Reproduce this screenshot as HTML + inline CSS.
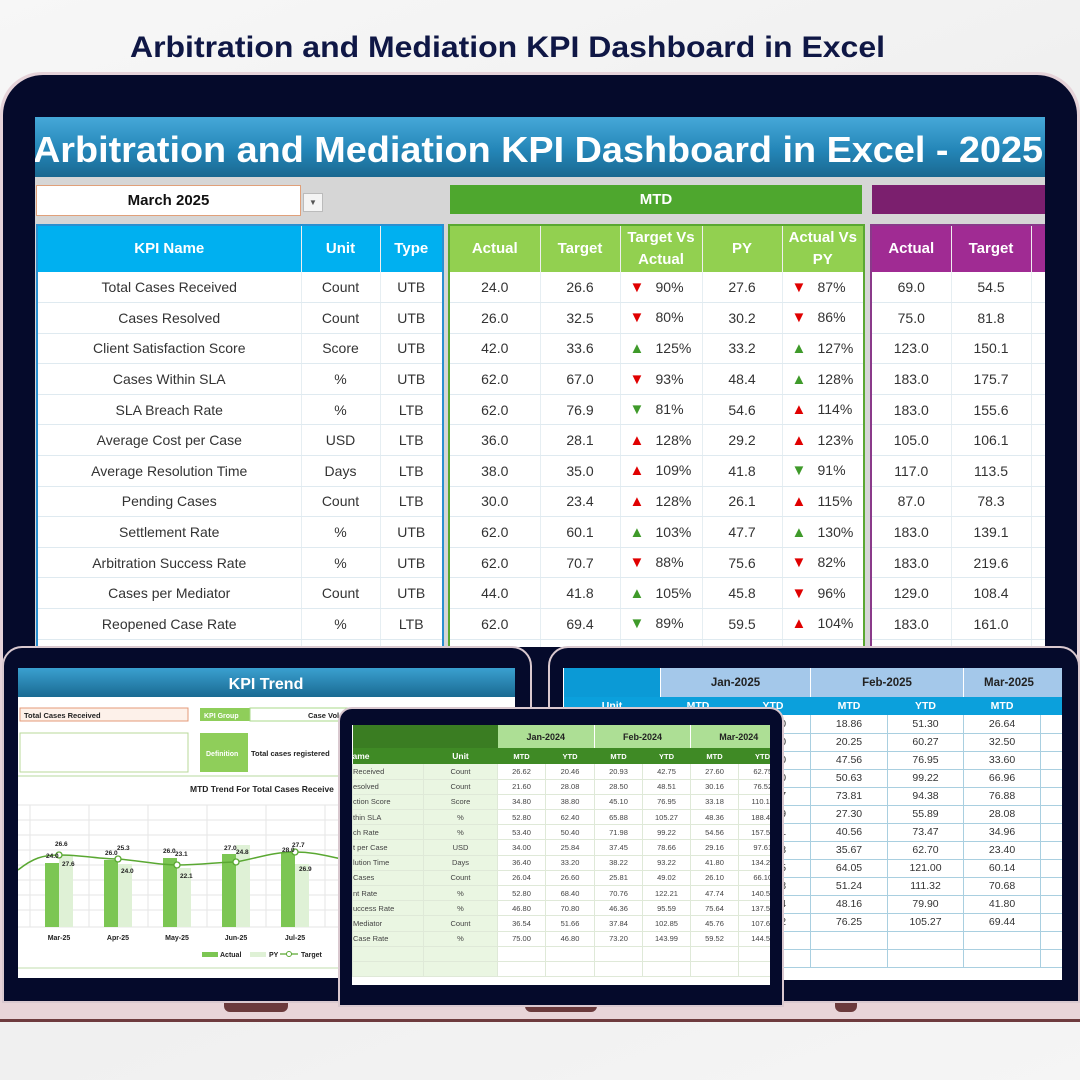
<!DOCTYPE html>
<html><head><meta charset="utf-8"><style>
*{box-sizing:border-box;margin:0;padding:0}
body{width:1080px;height:1080px;overflow:hidden;position:relative;background:linear-gradient(160deg,#f7f7f7,#ececec 50%,#f5f5f5);font-family:"Liberation Sans",sans-serif}
.abs{position:absolute}
table{border-collapse:collapse;table-layout:fixed}
td{padding:0;text-align:center;white-space:nowrap;overflow:hidden}
.mt td{height:30.6px;font-size:14px;color:#333;border-bottom:1px solid #dfeaf0;border-left:1px solid #e6eef2}
.mt tr.h td{height:47px;font-size:15px;font-weight:bold;color:#fff;line-height:22px;border-left:1px solid rgba(255,255,255,.6);border-bottom:none}
.mt tr.r td{background:#fff}
.mt td.a{text-align:left;padding-left:9px}
.dn{color:#e00000}.up{color:#e00000}.gu{color:#3f9a2a}.gd{color:#3f9a2a}
.ar{display:inline-block;width:26px;text-align:left;font-size:15px}
.pc{display:inline-block;text-align:left}
.tb td{font-size:7.5px;color:#444;height:15.2px;border-bottom:1px solid #dfe9d8;border-left:1px solid #dfe9d8}
.rb td{font-size:10.5px;color:#333;height:18px;border-bottom:1px solid #a9cfe0;border-left:1px solid #a9cfe0}
</style></head><body>
<svg class="abs" style="left:0;top:0" width="1080" height="75"><text x="130" y="57" font-family="Liberation Sans" font-weight="bold" font-size="30" fill="#0f1745" textLength="755" lengthAdjust="spacingAndGlyphs">Arbitration and Mediation KPI Dashboard in Excel</text></svg>

<div class="abs" style="left:0;top:990px;width:1080px;height:30px;background:#e8d4d8"></div>
<div class="abs" style="left:0;top:1019px;width:1080px;height:3px;background:#6e3b3e"></div>
<div class="abs" style="left:224px;top:1000px;width:64px;height:12px;background:#6b3a3c;border-radius:0 0 6px 6px"></div>
<div class="abs" style="left:525px;top:1000px;width:72px;height:12px;background:#6b3a3c;border-radius:0 0 6px 6px"></div>
<div class="abs" style="left:835px;top:1000px;width:22px;height:12px;background:#6b3a3c;border-radius:0 0 6px 6px"></div>

<div class="abs" style="left:0;top:72px;width:1080px;height:930px;background:#e6d3d9;border-radius:42px 42px 0 0"></div>
<div class="abs" style="left:3px;top:75px;width:1074px;height:925px;background:#050a2b;border-radius:40px 40px 0 0"></div>
<div class="abs" style="left:35px;top:117px;width:1010px;height:530px;background:#d6d6d6;overflow:hidden">
  <div class="abs" style="left:0;top:0;width:1010px;height:60px;background:linear-gradient(#46a8d8,#2486b8 55%,#1a6890)"></div>
  <svg class="abs" style="left:0;top:0" width="1010" height="60"><text x="-2" y="45" font-family="Liberation Sans" font-weight="bold" font-size="36" fill="#fff" textLength="1010" lengthAdjust="spacingAndGlyphs">Arbitration and Mediation KPI Dashboard in Excel - 2025</text></svg>
  <div class="abs" style="left:1px;top:68px;width:265px;height:31px;background:#fff;border:1px solid #e0a07a;font-weight:bold;font-size:15px;text-align:center;line-height:29px;color:#111">March 2025</div>
  <div class="abs" style="left:268px;top:76px;width:20px;height:19px;background:#f4f4f4;border:1px solid #bbb;font-size:8px;text-align:center;line-height:17px;color:#555">▼</div>
  <div class="abs" style="left:415px;top:68px;width:412px;height:29px;background:#4ea72e;color:#fff;font-weight:bold;font-size:15px;text-align:center;line-height:29px">MTD</div>
  <div class="abs" style="left:837px;top:68px;width:180px;height:29px;background:#7b1f6e"></div>

  <table class="abs mt" style="left:1px;top:107px;width:406px;border:2px solid #2a8fd0">
    <colgroup><col style="width:264px"><col style="width:79px"><col style="width:63px"></colgroup>
    <tr class="h" style="background:#00b0f0"><td>KPI Name</td><td>Unit</td><td>Type</td></tr>
    <tr class="r"><td>Total Cases Received</td><td>Count</td><td>UTB</td></tr>
    <tr class="r"><td>Cases Resolved</td><td>Count</td><td>UTB</td></tr>
    <tr class="r"><td>Client Satisfaction Score</td><td>Score</td><td>UTB</td></tr>
    <tr class="r"><td>Cases Within SLA</td><td>%</td><td>UTB</td></tr>
    <tr class="r"><td>SLA Breach Rate</td><td>%</td><td>LTB</td></tr>
    <tr class="r"><td>Average Cost per Case</td><td>USD</td><td>LTB</td></tr>
    <tr class="r"><td>Average Resolution Time</td><td>Days</td><td>LTB</td></tr>
    <tr class="r"><td>Pending Cases</td><td>Count</td><td>LTB</td></tr>
    <tr class="r"><td>Settlement Rate</td><td>%</td><td>UTB</td></tr>
    <tr class="r"><td>Arbitration Success Rate</td><td>%</td><td>UTB</td></tr>
    <tr class="r"><td>Cases per Mediator</td><td>Count</td><td>UTB</td></tr>
    <tr class="r"><td>Reopened Case Rate</td><td>%</td><td>LTB</td></tr>
    <tr class="r"><td></td><td></td><td></td></tr>
  </table>

  <table class="abs mt" style="left:413px;top:107px;width:415px;border:2px solid #5aa832">
    <colgroup><col style="width:91px"><col style="width:80px"><col style="width:82px"><col style="width:80px"><col style="width:82px"></colgroup>
    <tr class="h" style="background:#92d050"><td>Actual</td><td>Target</td><td>Target Vs<br>Actual</td><td>PY</td><td>Actual Vs<br>PY</td></tr>
    <tr class="r"><td>24.0</td><td>26.6</td><td class="a"><span class="ar dn">▼</span><span class="pc">90%</span></td><td>27.6</td><td class="a"><span class="ar dn">▼</span><span class="pc">87%</span></td></tr>
    <tr class="r"><td>26.0</td><td>32.5</td><td class="a"><span class="ar dn">▼</span><span class="pc">80%</span></td><td>30.2</td><td class="a"><span class="ar dn">▼</span><span class="pc">86%</span></td></tr>
    <tr class="r"><td>42.0</td><td>33.6</td><td class="a"><span class="ar gu">▲</span><span class="pc">125%</span></td><td>33.2</td><td class="a"><span class="ar gu">▲</span><span class="pc">127%</span></td></tr>
    <tr class="r"><td>62.0</td><td>67.0</td><td class="a"><span class="ar dn">▼</span><span class="pc">93%</span></td><td>48.4</td><td class="a"><span class="ar gu">▲</span><span class="pc">128%</span></td></tr>
    <tr class="r"><td>62.0</td><td>76.9</td><td class="a"><span class="ar gd">▼</span><span class="pc">81%</span></td><td>54.6</td><td class="a"><span class="ar up">▲</span><span class="pc">114%</span></td></tr>
    <tr class="r"><td>36.0</td><td>28.1</td><td class="a"><span class="ar up">▲</span><span class="pc">128%</span></td><td>29.2</td><td class="a"><span class="ar up">▲</span><span class="pc">123%</span></td></tr>
    <tr class="r"><td>38.0</td><td>35.0</td><td class="a"><span class="ar up">▲</span><span class="pc">109%</span></td><td>41.8</td><td class="a"><span class="ar gd">▼</span><span class="pc">91%</span></td></tr>
    <tr class="r"><td>30.0</td><td>23.4</td><td class="a"><span class="ar up">▲</span><span class="pc">128%</span></td><td>26.1</td><td class="a"><span class="ar up">▲</span><span class="pc">115%</span></td></tr>
    <tr class="r"><td>62.0</td><td>60.1</td><td class="a"><span class="ar gu">▲</span><span class="pc">103%</span></td><td>47.7</td><td class="a"><span class="ar gu">▲</span><span class="pc">130%</span></td></tr>
    <tr class="r"><td>62.0</td><td>70.7</td><td class="a"><span class="ar dn">▼</span><span class="pc">88%</span></td><td>75.6</td><td class="a"><span class="ar dn">▼</span><span class="pc">82%</span></td></tr>
    <tr class="r"><td>44.0</td><td>41.8</td><td class="a"><span class="ar gu">▲</span><span class="pc">105%</span></td><td>45.8</td><td class="a"><span class="ar dn">▼</span><span class="pc">96%</span></td></tr>
    <tr class="r"><td>62.0</td><td>69.4</td><td class="a"><span class="ar gd">▼</span><span class="pc">89%</span></td><td>59.5</td><td class="a"><span class="ar up">▲</span><span class="pc">104%</span></td></tr>
    <tr class="r"><td></td><td></td><td></td><td></td><td></td></tr>
  </table>

  <table class="abs mt" style="left:835px;top:107px;width:260px;border:2px solid #8a3a8a">
    <colgroup><col style="width:80px"><col style="width:80px"><col style="width:100px"></colgroup>
    <tr class="h" style="background:#a02b93"><td>Actual</td><td>Target</td><td>A</td></tr>
    <tr class="r"><td>69.0</td><td>54.5</td><td></td></tr>
    <tr class="r"><td>75.0</td><td>81.8</td><td></td></tr>
    <tr class="r"><td>123.0</td><td>150.1</td><td></td></tr>
    <tr class="r"><td>183.0</td><td>175.7</td><td></td></tr>
    <tr class="r"><td>183.0</td><td>155.6</td><td></td></tr>
    <tr class="r"><td>105.0</td><td>106.1</td><td></td></tr>
    <tr class="r"><td>117.0</td><td>113.5</td><td></td></tr>
    <tr class="r"><td>87.0</td><td>78.3</td><td></td></tr>
    <tr class="r"><td>183.0</td><td>139.1</td><td></td></tr>
    <tr class="r"><td>183.0</td><td>219.6</td><td></td></tr>
    <tr class="r"><td>129.0</td><td>108.4</td><td></td></tr>
    <tr class="r"><td>183.0</td><td>161.0</td><td></td></tr>
    <tr class="r"><td></td><td></td><td></td></tr>
  </table>
</div>

<div class="abs" style="left:2px;top:646px;width:530px;height:357px;background:#050a2b;border-radius:20px 20px 0 0;border:2px solid #d9c8cf"></div>
<div class="abs" style="left:18px;top:668px;width:497px;height:310px;background:#fff;overflow:hidden">
  <svg width="497" height="310" font-family="Liberation Sans">
    <defs><linearGradient id="g1" x1="0" y1="0" x2="0" y2="1"><stop offset="0" stop-color="#3aa0d0"/><stop offset="1" stop-color="#1a6a92"/></linearGradient></defs>
    <rect x="0" y="0" width="497" height="29" fill="url(#g1)"/>
    <text x="248" y="21" text-anchor="middle" font-weight="bold" font-size="16" fill="#fff">KPI Trend</text>
    <rect x="2" y="40" width="168" height="13" fill="#fdf1ea" stroke="#e49a78"/>
    <text x="6" y="50" font-size="7.5" font-weight="bold" fill="#222">Total Cases Received</text>
    <rect x="182" y="40" width="50" height="13" fill="#8fce5a"/>
    <text x="186" y="50" font-size="7" font-weight="bold" fill="#fff">KPI Group</text>
    <rect x="232" y="40" width="120" height="13" fill="#fff" stroke="#a8d88a"/>
    <text x="290" y="50" font-size="7.5" font-weight="bold" fill="#222">Case Vol</text>
    <rect x="2" y="65" width="168" height="39" fill="#fff" stroke="#b8d89a"/>
    <rect x="182" y="65" width="48" height="39" fill="#8fce5a"/>
    <text x="188" y="88" font-size="7" font-weight="bold" fill="#fff">Definition</text>
    <text x="233" y="88" font-size="7.5" font-weight="bold" fill="#222">Total cases registered</text>
    <line x1="0" y1="108" x2="497" y2="108" stroke="#cfe6bf" stroke-width="1.5"/>
    <text x="172" y="124" font-size="8.5" font-weight="bold" fill="#222">MTD Trend For Total Cases Receive</text>
    <g stroke="#e6e6e6" stroke-width="1">
      <line x1="0" y1="137" x2="330" y2="137"/><line x1="0" y1="152" x2="330" y2="152"/><line x1="0" y1="167" x2="330" y2="167"/><line x1="0" y1="182" x2="330" y2="182"/><line x1="0" y1="197" x2="330" y2="197"/><line x1="0" y1="212" x2="330" y2="212"/><line x1="0" y1="227" x2="330" y2="227"/><line x1="0" y1="242" x2="330" y2="242"/><line x1="0" y1="259" x2="330" y2="259"/>
      <line x1="12" y1="137" x2="12" y2="259"/><line x1="71" y1="137" x2="71" y2="259"/><line x1="130" y1="137" x2="130" y2="259"/><line x1="189" y1="137" x2="189" y2="259"/><line x1="248" y1="137" x2="248" y2="259"/><line x1="307" y1="137" x2="307" y2="259"/>
    </g>
    <g fill="#7cc653">
      <rect x="27" y="195" width="14" height="64"/><rect x="86" y="192" width="14" height="67"/><rect x="145" y="190" width="14" height="69"/><rect x="204" y="186" width="14" height="73"/><rect x="263" y="184" width="14" height="75"/>
    </g>
    <g fill="#dff1d6">
      <rect x="41" y="187" width="14" height="72"/><rect x="100" y="196" width="14" height="63"/><rect x="159" y="200" width="14" height="59"/><rect x="218" y="177" width="14" height="82"/><rect x="277" y="196" width="14" height="63"/>
    </g>
    <path d="M0,202 C15,190 25,187 41,187 C65,187 80,191 100,191 C125,193 140,197 159,197 C185,197 200,194 218,194 C240,190 255,184 277,184 C300,184 315,190 330,192" fill="none" stroke="#5aa832" stroke-width="1.5"/>
    <g fill="#fff" stroke="#5aa832" stroke-width="1.3">
      <circle cx="41" cy="187" r="3"/><circle cx="100" cy="191" r="3"/><circle cx="159" cy="197" r="3"/><circle cx="218" cy="194" r="3"/><circle cx="277" cy="184" r="3"/>
    </g>
    <g font-size="6.5" font-weight="bold" fill="#222">
      <text x="37" y="178">26.6</text><text x="28" y="190">24.0</text><text x="44" y="198">27.6</text>
      <text x="99" y="182">25.3</text><text x="87" y="187">26.0</text><text x="103" y="205">24.0</text>
      <text x="157" y="188">23.1</text><text x="145" y="185">26.0</text><text x="162" y="210">22.1</text>
      <text x="206" y="182">27.0</text><text x="218" y="186">24.8</text>
      <text x="274" y="179">27.7</text><text x="264" y="184">28.0</text><text x="281" y="203">26.9</text>
    </g>
    <g font-size="7" font-weight="bold" fill="#222" text-anchor="middle">
      <text x="41" y="272">Mar-25</text><text x="100" y="272">Apr-25</text><text x="159" y="272">May-25</text><text x="218" y="272">Jun-25</text><text x="277" y="272">Jul-25</text>
    </g>
    <rect x="184" y="284" width="16" height="5" fill="#7cc653"/><text x="202" y="289" font-size="7" font-weight="bold" fill="#222">Actual</text>
    <rect x="232" y="284" width="16" height="5" fill="#dff1d6"/><text x="251" y="289" font-size="7" font-weight="bold" fill="#222">PY</text>
    <line x1="262" y1="286" x2="280" y2="286" stroke="#5aa832" stroke-width="1.3"/><circle cx="271" cy="286" r="2.5" fill="#fff" stroke="#5aa832"/><text x="283" y="289" font-size="7" font-weight="bold" fill="#222">Target</text>
    <line x1="0" y1="300" x2="497" y2="300" stroke="#d6e8c8" stroke-width="1.5"/>
  </svg>
</div>

<div class="abs" style="left:548px;top:646px;width:532px;height:357px;background:#050a2b;border-radius:20px 20px 0 0;border:2px solid #d9c8cf"></div>
<div class="abs" style="left:563px;top:668px;width:499px;height:312px;background:#fff;overflow:hidden">
  <table class="rb" style="width:560px">
    <colgroup><col style="width:97px"><col style="width:75px"><col style="width:75px"><col style="width:77px"><col style="width:76px"><col style="width:77px"><col style="width:83px"></colgroup>
    <tr style="height:29px"><td style="background:#0b9ad6;border:none"></td><td colspan="2" style="background:#a4c8ea;font-weight:bold;font-size:11.5px;color:#222;border:none;border-left:1px solid #fff">Jan-2025</td><td colspan="2" style="background:#a4c8ea;font-weight:bold;font-size:11.5px;color:#222;border:none;border-left:1px solid #fff">Feb-2025</td><td colspan="2" style="background:#a4c8ea;font-weight:bold;font-size:11.5px;color:#222;border:none;border-left:1px solid #fff;text-align:left;padding-left:20px">Mar-2025</td></tr>
    <tr style="height:17px;background:#0ba0dc"><td style="color:#fff;font-weight:bold;border:none;height:17px">Unit</td><td style="color:#fff;font-weight:bold;border:none;height:17px">MTD</td><td style="color:#fff;font-weight:bold;border:none">YTD</td><td style="color:#fff;font-weight:bold;border:none">MTD</td><td style="color:#fff;font-weight:bold;border:none">YTD</td><td style="color:#fff;font-weight:bold;border:none">MTD</td><td style="border:none"></td></tr>
    <tr><td>Count</td><td>19.20</td><td>19.20</td><td>18.86</td><td>51.30</td><td>26.64</td><td></td></tr>
    <tr><td>Count</td><td>22.40</td><td>22.40</td><td>20.25</td><td>60.27</td><td>32.50</td><td></td></tr>
    <tr><td>Score</td><td>29.10</td><td>29.10</td><td>47.56</td><td>76.95</td><td>33.60</td><td></td></tr>
    <tr><td>%</td><td>48.60</td><td>48.60</td><td>50.63</td><td>99.22</td><td>66.96</td><td></td></tr>
    <tr><td>%</td><td>20.57</td><td>20.57</td><td>73.81</td><td>94.38</td><td>76.88</td><td></td></tr>
    <tr><td>USD</td><td>28.59</td><td>28.59</td><td>27.30</td><td>55.89</td><td>28.08</td><td></td></tr>
    <tr><td>Days</td><td>32.91</td><td>32.91</td><td>40.56</td><td>73.47</td><td>34.96</td><td></td></tr>
    <tr><td>Count</td><td>27.03</td><td>27.03</td><td>35.67</td><td>62.70</td><td>23.40</td><td></td></tr>
    <tr><td>%</td><td>56.95</td><td>56.95</td><td>64.05</td><td>121.00</td><td>60.14</td><td></td></tr>
    <tr><td>%</td><td>60.08</td><td>60.08</td><td>51.24</td><td>111.32</td><td>70.68</td><td></td></tr>
    <tr><td>Count</td><td>31.74</td><td>31.74</td><td>48.16</td><td>79.90</td><td>41.80</td><td></td></tr>
    <tr><td>%</td><td>29.02</td><td>29.02</td><td>76.25</td><td>105.27</td><td>69.44</td><td></td></tr>
    <tr><td></td><td></td><td></td><td></td><td></td><td></td><td></td></tr>
    <tr><td></td><td></td><td></td><td></td><td></td><td></td><td></td></tr>
  </table>
</div>

<div class="abs" style="left:338px;top:707px;width:446px;height:300px;background:#050a2b;border-radius:14px 14px 0 0;border:2px solid #d9c8cf"></div>
<div class="abs" style="left:352px;top:725px;width:418px;height:260px;background:#fff;overflow:hidden">
  <table class="tb" style="width:434px">
    <colgroup><col style="width:71px"><col style="width:74px"><col style="width:48px"><col style="width:49px"><col style="width:48px"><col style="width:48px"><col style="width:48px"><col style="width:48px"></colgroup>
    <tr><td colspan="2" style="background:#3a7d22;height:23px;border:none"></td><td colspan="2" style="background:#addf95;font-weight:bold;font-size:9px;color:#222;border:none">Jan-2024</td><td colspan="2" style="background:#addf95;font-weight:bold;font-size:9px;color:#222;border:none;border-left:1px solid #fff">Feb-2024</td><td colspan="2" style="background:#addf95;font-weight:bold;font-size:9px;color:#222;border:none;border-left:1px solid #fff">Mar-2024</td></tr>
    <tr style="background:#3f8a25"><td style="color:#fff;font-weight:bold;font-size:8.5px;text-align:left;height:16px;border:none">ame</td><td style="color:#fff;font-weight:bold;font-size:8.5px;border:none">Unit</td><td style="color:#fff;font-weight:bold;border:none">MTD</td><td style="color:#fff;font-weight:bold;border:none">YTD</td><td style="color:#fff;font-weight:bold;border:none">MTD</td><td style="color:#fff;font-weight:bold;border:none">YTD</td><td style="color:#fff;font-weight:bold;border:none">MTD</td><td style="color:#fff;font-weight:bold;border:none">YTD</td></tr>
    <tr><td style="background:#eaf6e2;text-align:left">Received</td><td style="background:#eaf6e2">Count</td><td>26.62</td><td>20.46</td><td>20.93</td><td>42.75</td><td>27.60</td><td>62.75</td></tr>
    <tr><td style="background:#eaf6e2;text-align:left">esolved</td><td style="background:#eaf6e2">Count</td><td>21.60</td><td>28.08</td><td>28.50</td><td>48.51</td><td>30.16</td><td>76.52</td></tr>
    <tr><td style="background:#eaf6e2;text-align:left">ction Score</td><td style="background:#eaf6e2">Score</td><td>34.80</td><td>38.80</td><td>45.10</td><td>76.95</td><td>33.18</td><td>110.13</td></tr>
    <tr><td style="background:#eaf6e2;text-align:left">thin SLA</td><td style="background:#eaf6e2">%</td><td>52.80</td><td>62.40</td><td>65.88</td><td>105.27</td><td>48.36</td><td>188.43</td></tr>
    <tr><td style="background:#eaf6e2;text-align:left">ch Rate</td><td style="background:#eaf6e2">%</td><td>53.40</td><td>50.40</td><td>71.98</td><td>99.22</td><td>54.56</td><td>157.54</td></tr>
    <tr><td style="background:#eaf6e2;text-align:left">t per Case</td><td style="background:#eaf6e2">USD</td><td>34.00</td><td>25.84</td><td>37.45</td><td>78.66</td><td>29.16</td><td>97.61</td></tr>
    <tr><td style="background:#eaf6e2;text-align:left">lution Time</td><td style="background:#eaf6e2">Days</td><td>36.40</td><td>33.20</td><td>38.22</td><td>93.22</td><td>41.80</td><td>134.22</td></tr>
    <tr><td style="background:#eaf6e2;text-align:left">Cases</td><td style="background:#eaf6e2">Count</td><td>26.04</td><td>26.60</td><td>25.81</td><td>49.02</td><td>26.10</td><td>66.10</td></tr>
    <tr><td style="background:#eaf6e2;text-align:left">nt Rate</td><td style="background:#eaf6e2">%</td><td>52.80</td><td>68.40</td><td>70.76</td><td>122.21</td><td>47.74</td><td>140.50</td></tr>
    <tr><td style="background:#eaf6e2;text-align:left">uccess Rate</td><td style="background:#eaf6e2">%</td><td>46.80</td><td>70.80</td><td>46.36</td><td>95.59</td><td>75.64</td><td>137.50</td></tr>
    <tr><td style="background:#eaf6e2;text-align:left">Mediator</td><td style="background:#eaf6e2">Count</td><td>36.54</td><td>51.66</td><td>37.84</td><td>102.85</td><td>45.76</td><td>107.60</td></tr>
    <tr><td style="background:#eaf6e2;text-align:left">Case Rate</td><td style="background:#eaf6e2">%</td><td>75.00</td><td>46.80</td><td>73.20</td><td>143.99</td><td>59.52</td><td>144.50</td></tr>
    <tr><td style="background:#eaf6e2"></td><td style="background:#eaf6e2"></td><td></td><td></td><td></td><td></td><td></td><td></td></tr>
    <tr><td style="background:#eaf6e2"></td><td style="background:#eaf6e2"></td><td></td><td></td><td></td><td></td><td></td><td></td></tr>
  </table>
</div>
</body></html>
